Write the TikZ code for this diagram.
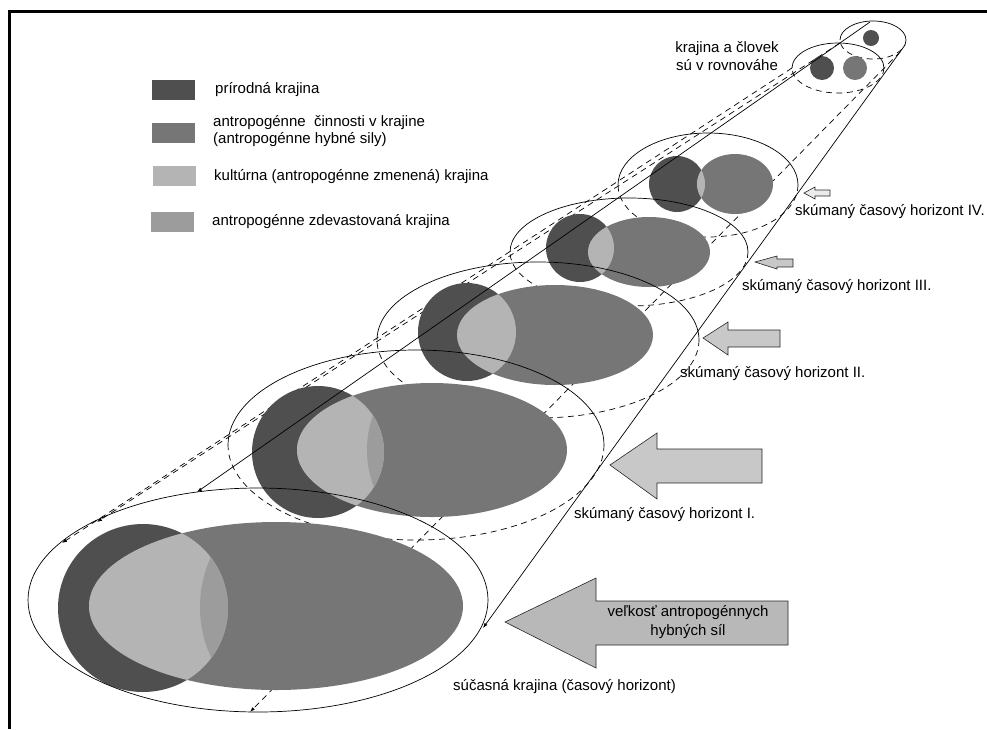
\documentclass[tikz,border=0pt]{standalone}
\usepackage{fontspec}
\setmainfont{Liberation Sans}
\usetikzlibrary{arrows.meta}
\definecolor{natdark}{HTML}{4F4F4F}
\definecolor{antmid}{HTML}{767676}
\definecolor{kultlight}{HTML}{B4B4B4}
\definecolor{devgray}{HTML}{9C9C9C}
\definecolor{forcefill}{HTML}{C8C8C8}
% lower (hidden) half of a ring: centre x, centre y, x radius, y radius
\newcommand\ringback[4]{\draw[hidden] (#1+#3,#2) arc[start angle=0,end angle=-180,x radius=#3pt,y radius=#4pt];}
% upper (visible) half of a ring
\newcommand\ringfront[4]{\draw[outline] (#1-#3,#2) arc[start angle=180,end angle=0,x radius=#3pt,y radius=#4pt];}
\begin{document}
\begin{tikzpicture}[x=1pt,y=-1pt,
  font=\fontsize{15}{17.5}\selectfont,
  outline/.style={line width=0.7pt},
  hidden/.style={line width=0.7pt,dash pattern=on 6pt off 4.5pt},
  tipped/.style={-{Latex[length=5pt,width=3.5pt]}},
  force/.style={draw=black!85,line width=0.6pt,fill=forcefill},
  lbl/.style={anchor=west,inner sep=0pt},
  keybox/.style={inner sep=0pt,minimum width=43pt,minimum height=20pt}]
\useasboundingbox (0,0) rectangle (987,729);
\draw[line width=3pt] (9,729) -- (9,11) -- (987,11);

% ---------- legend ----------
\node[keybox,fill=natdark]   (k1) at (173,90) {};
\node[keybox,fill=antmid]    (k2) at (173,133) {};
\node[keybox,fill=kultlight] (k3) at (174,176) {};
\node[keybox,fill=devgray]   (k4) at (172,222) {};
\node[lbl] (t1) at (215,90) {prírodná krajina};
\node[lbl,align=left] (t2) at (213,131) {antropogénne\ \ činnosti v krajine\\(antropogénne hybné sily)};
\node[lbl] (t3) at (214,177) {kultúrna (antropogénne zmenená) krajina};
\node[lbl] (t4) at (212,222) {antropogénne zdevastovaná krajina};

% ---------- guide points of the tube ----------
\coordinate (ltop) at (870,22);  \coordinate (lend) at (197,492);
\coordinate (rtop) at (905,45);  \coordinate (rend) at (483,628);
\coordinate (dtop) at (900,52);  \coordinate (dend) at (250,712);
\coordinate (aTop) at (792,68);  \coordinate (aEnd) at (62,543);
\coordinate (bTop) at (840,43);  \coordinate (bEnd) at (97,522);

% ---------- hidden edges ----------
\draw[hidden,tipped] (dtop) -- (dend);
\draw[hidden,tipped] (aTop) -- (aEnd);
\draw[hidden,tipped] (bTop) -- (bEnd);
\ringback{873}{40}{33}{19}
\ringback{838}{68}{46}{25}
\ringback{708}{185}{90}{52}
\ringback{629}{252}{119}{54}
\ringback{538}{340}{161}{78}
\ringback{416}{445}{188}{95}

% ---------- landscapes ----------
% top: natural landscape only
\fill[natdark] (871,38) circle[radius=8pt];
% equilibrium
\fill[natdark] (822,68) circle[radius=12pt];
\fill[antmid]  (855,68) circle[radius=12pt];
% horizon IV
\fill[natdark] (677,184) circle[radius=28pt];
\fill[antmid]  (735,184) ellipse[x radius=38pt,y radius=30pt];
\begin{scope}
  \clip (677,184) circle[radius=28pt];
  \fill[kultlight] (735,184) ellipse[x radius=38pt,y radius=30pt];
\end{scope}
% horizon III
\fill[natdark] (580,248) circle[radius=34pt];
\fill[antmid]  (649,252) ellipse[x radius=61pt,y radius=35pt];
\begin{scope}
  \clip (580,248) circle[radius=34pt];
  \fill[kultlight] (649,252) ellipse[x radius=61pt,y radius=35pt];
\end{scope}
% horizon II
\fill[natdark] (467,332) circle[radius=49pt];
\fill[antmid]  (555,335) ellipse[x radius=98pt,y radius=50pt];
\begin{scope}
  \clip (467,332) circle[radius=49pt];
  \fill[kultlight] (555,335) ellipse[x radius=98pt,y radius=50pt];
\end{scope}
% horizon I
\fill[natdark] (318,452) circle[radius=66pt];
\fill[antmid]  (432,450) ellipse[x radius=135pt,y radius=67pt];
\begin{scope}
  \clip (318,452) circle[radius=66pt];
  \fill[kultlight] (432,450) ellipse[x radius=135pt,y radius=67pt];
  \clip (432,450) ellipse[x radius=135pt,y radius=67pt];
  \fill[devgray] (420,450) ellipse[x radius=53pt,y radius=75pt];
\end{scope}
% present landscape
\fill[natdark] (143,608) ellipse[x radius=85pt,y radius=84pt];
\fill[antmid]  (276,606) ellipse[x radius=187pt,y radius=84pt];
\begin{scope}
  \clip (143,608) ellipse[x radius=85pt,y radius=84pt];
  \fill[kultlight] (276,606) ellipse[x radius=187pt,y radius=84pt];
  \clip (276,606) ellipse[x radius=187pt,y radius=84pt];
  \fill[devgray] (300,607) ellipse[x radius=100pt,y radius=110pt];
\end{scope}

% ---------- visible edges ----------
\ringfront{873}{40}{33}{19}
\ringfront{838}{68}{46}{25}
\ringfront{708}{185}{90}{52}
\ringfront{629}{252}{119}{54}
\ringfront{538}{340}{161}{78}
\ringfront{416}{445}{188}{95}
\draw[outline] (258,600) ellipse[x radius=230pt,y radius=112pt];
\draw[outline,tipped] (ltop) -- (lend);
\draw[outline,tipped] (rtop) -- (rend);

% ---------- driving forces ----------
\draw[force,fill=black!8] (804,193) -- (815,187) -- (815,190) -- (830,190) -- (830,196) -- (815,196) -- (815,199) -- cycle;
\draw[force] (755,262) -- (777,256) -- (777,259) -- (793,259) -- (793,267) -- (777,267) -- (777,269) -- cycle;
\draw[force] (703,338) -- (728,322) -- (728,330) -- (780,330) -- (780,347) -- (728,347) -- (728,355) -- cycle;
\draw[force] (610,465) -- (657,433) -- (657,449) -- (762,449) -- (762,483) -- (657,483) -- (657,499) -- cycle;
\draw[force,fill=black!28] (505,622) -- (596,578) -- (596,601) -- (788,601) -- (788,645) -- (596,645) -- (596,668) -- cycle;
\node[align=center,font=\fontsize{15}{19}\selectfont] (force) at (688,622) {veľkosť antropogénnych\\hybných síl};

% ---------- labels ----------
\node[align=center] (eq) at (727,56) {krajina a človek\\sú v rovnováhe};
\node[lbl] (h4) at (795,212) {skúmaný časový horizont IV.};
\node[lbl] (h3) at (742,287) {skúmaný časový horizont III.};
\node[lbl] (h2) at (680,374) {skúmaný časový horizont II.};
\node[lbl] (h1) at (574,515) {skúmaný časový horizont I.};
\node[lbl] (now) at (453,687) {súčasná krajina (časový horizont)};
\end{tikzpicture}
\end{document}
